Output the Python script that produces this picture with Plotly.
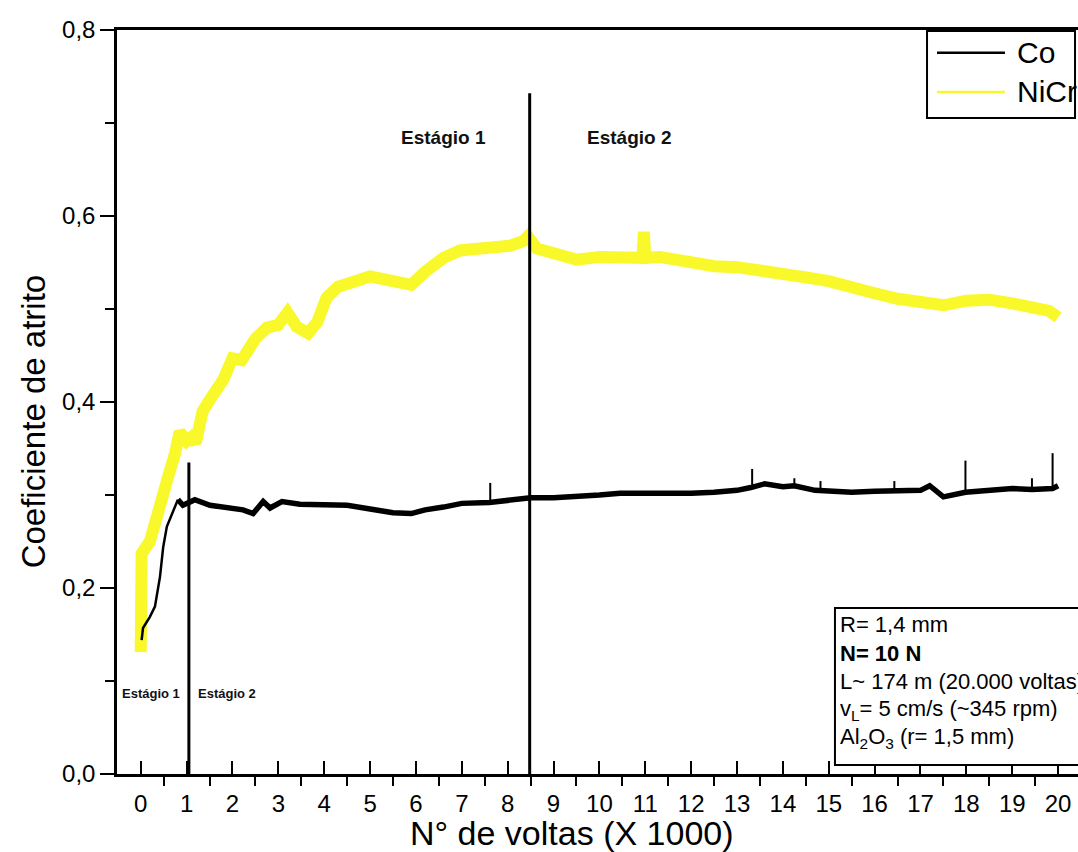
import plotly.graph_objects as go

# Friction coefficient vs. number of laps (x 1000)
nicr_x = [0.00, 0.02, 0.20, 0.40, 0.60, 0.75, 0.85, 1.00, 1.10, 1.20, 1.35, 1.50, 1.80, 2.00,
          2.20, 2.50, 2.75, 3.00, 3.20, 3.40, 3.65, 3.85, 4.05, 4.30, 4.60, 4.80, 5.00, 5.50,
          5.90, 6.20, 6.60, 6.96, 7.30, 7.69, 8.05, 8.34, 8.44, 8.64, 9.14, 9.51, 10.00, 10.60,
          10.94, 10.97, 11.00, 11.32, 12.04, 12.50, 13.00, 13.50, 14.00, 14.50, 15.00, 15.50,
          16.00, 16.50, 17.00, 17.50, 18.00, 18.50, 19.00, 19.50, 19.80, 20.00]
nicr_y = [0.131, 0.237, 0.250, 0.290, 0.320, 0.345, 0.368, 0.358, 0.362, 0.356, 0.390, 0.402,
          0.424, 0.447, 0.445, 0.468, 0.480, 0.483, 0.496, 0.481, 0.474, 0.486, 0.512, 0.524,
          0.528, 0.533, 0.535, 0.530, 0.526, 0.540, 0.555, 0.563, 0.564, 0.565, 0.568, 0.573,
          0.578, 0.565, 0.558, 0.553, 0.556, 0.556, 0.555, 0.583, 0.555, 0.556, 0.548, 0.546,
          0.545, 0.542, 0.540, 0.534, 0.530, 0.522, 0.517, 0.511, 0.507, 0.504, 0.509, 0.510,
          0.506, 0.502, 0.498, 0.491]

# Co: running-in part (thin trace) and steady part
co_run_x = [0.02, 0.05, 0.20, 0.31, 0.42, 0.49, 0.57, 0.68, 0.81]
co_run_y = [0.144, 0.157, 0.169, 0.180, 0.212, 0.244, 0.266, 0.280, 0.295]
co_x = [0.81, 0.92, 1.05, 1.18, 1.51, 1.88, 2.23, 2.45, 2.67, 2.82, 3.08, 3.47, 4.00, 4.50,
        5.00, 5.50, 5.90, 6.20, 6.60, 7.00, 7.60, 8.00, 8.50, 9.00, 9.50, 10.00, 10.45,
        11.00, 11.50, 12.00, 12.50, 13.00, 13.30, 13.60, 14.00, 14.25, 14.70, 15.20, 15.50,
        16.00, 16.40, 17.00, 17.20, 17.50, 17.98, 18.50, 19.00, 19.43, 19.88, 20.00]
co_y = [0.295, 0.289, 0.292, 0.295, 0.289, 0.287, 0.284, 0.280, 0.293, 0.286, 0.293, 0.290,
        0.290, 0.289, 0.285, 0.281, 0.280, 0.284, 0.287, 0.291, 0.292, 0.294, 0.297, 0.297,
        0.298, 0.300, 0.302, 0.302, 0.301, 0.302, 0.303, 0.305, 0.308, 0.312, 0.309, 0.310,
        0.305, 0.304, 0.303, 0.304, 0.304, 0.305, 0.310, 0.298, 0.303, 0.305, 0.307, 0.306,
        0.307, 0.310]
# Narrow spikes on the Co signal: position, base, peak
co_spike_x = [7.62, 13.33, 14.25, 14.82, 16.43, 17.98, 19.43, 19.88]
co_spike_base = [0.292, 0.308, 0.310, 0.305, 0.304, 0.303, 0.306, 0.307]
co_spike_top = [0.313, 0.328, 0.318, 0.315, 0.315, 0.337, 0.318, 0.345]

x_ticks = list(range(0, 21))
y_ticks = [0.0, 0.2, 0.4, 0.6, 0.8]

# Stage separators: (laps x1000, top of the line)
stage_x = [1.05, 8.48]
stage_top = [0.335, 0.732]

legend_names = ["Co", "NiCr"]
colors = {"Co": "#000000", "NiCr": "#F8F82A"}

info_lines = ["R= 1,4 mm", "<b>N= 10 N</b>", "L~ 174 m (20.000 voltas)",
              "v<sub>L</sub>= 5 cm/s (~345 rpm)", "Al<sub>2</sub>O<sub>3</sub> (r= 1,5 mm)"]

FONT = "Liberation Sans, Arial, sans-serif"

fig = go.Figure()
fig.add_trace(go.Scatter(x=nicr_x, y=nicr_y, mode="lines", name="NiCr",
                         line=dict(color=colors["NiCr"], width=12), showlegend=False))
fig.add_trace(go.Scatter(x=co_run_x, y=co_run_y, mode="lines", name="Co",
                         line=dict(color=colors["Co"], width=2.5), showlegend=False))
fig.add_trace(go.Scatter(x=co_x, y=co_y, mode="lines", name="Co",
                         line=dict(color=colors["Co"], width=5.5), showlegend=False))
spx, spy = [], []
for sx, sb, st in zip(co_spike_x, co_spike_base, co_spike_top):
    spx += [sx, sx, None]
    spy += [sb, st, None]
fig.add_trace(go.Scatter(x=spx, y=spy, mode="lines", name="Co",
                         line=dict(color=colors["Co"], width=2), showlegend=False))

shapes = []
for sx, st in zip(stage_x, stage_top):
    shapes.append(dict(type="line", xref="x", yref="y", x0=sx, x1=sx, y0=0, y1=st,
                       line=dict(color="black", width=3), layer="above"))

# Legend box drawn in paper coordinates
shapes.append(dict(type="rect", xref="paper", yref="paper", x0=0.8429, x1=0.9969,
                   y0=0.8817, y1=0.9987, line=dict(color="black", width=2),
                   fillcolor="white", layer="above"))
legend_y = [0.9694, 0.9167]
for name, ly in zip(legend_names, legend_y):
    shapes.append(dict(type="line", xref="paper", yref="paper", x0=0.8533, x1=0.9240,
                       y0=ly, y1=ly, line=dict(color=colors[name], width=2.5), layer="above"))

# Test conditions box
shapes.append(dict(type="rect", xref="paper", yref="paper", x0=0.7471, x1=1.05,
                   y0=0.0121, y1=0.2231, line=dict(color="black", width=2),
                   fillcolor="white", layer="above"))

annotations = []
for name, ly in zip(legend_names, legend_y):
    annotations.append(dict(xref="paper", yref="paper", x=0.9344, y=ly, text=name,
                            showarrow=False, xanchor="left", yanchor="middle",
                            font=dict(family=FONT, size=30, color="black")))

info_y = [0.2003, 0.1626, 0.1237, 0.0860, 0.0484]
for txt, iy in zip(info_lines, info_y):
    annotations.append(dict(xref="paper", yref="paper", x=0.7503, y=iy, text=txt,
                            showarrow=False, xanchor="left", yanchor="middle",
                            font=dict(family=FONT, size=22, color="black")))

stage_labels = [("Estágio 1", 6.61, 0.684, 19), ("Estágio 2", 10.65, 0.684, 19),
                ("Estágio 1", 0.225, 0.087, 13), ("Estágio 2", 1.89, 0.087, 13)]
for txt, lx, ly, fs in stage_labels:
    annotations.append(dict(xref="x", yref="y", x=lx, y=ly, text=f"<b>{txt}</b>",
                            showarrow=False, xanchor="center", yanchor="middle",
                            font=dict(family=FONT, size=fs, color="#111111")))

# Axis titles
annotations.append(dict(xref="paper", yref="paper", x=0.4735, y=-0.0793,
                        text="N° de voltas (X 1000)", showarrow=False,
                        xanchor="center", yanchor="middle",
                        font=dict(family=FONT, size=34, color="black")))
annotations.append(dict(xref="paper", yref="paper", x=-0.0874, y=0.474,
                        text="Coeficiente de atrito", showarrow=False, textangle=-90,
                        xanchor="center", yanchor="middle",
                        font=dict(family=FONT, size=33, color="black")))

fig.update_layout(
    width=1078, height=852,
    margin=dict(l=117, r=0, t=30, b=78, pad=0),
    paper_bgcolor="white", plot_bgcolor="white",
    separators=",.",
    showlegend=False,
    shapes=shapes, annotations=annotations,
    font=dict(family=FONT, color="black"),
)
fig.update_xaxes(
    range=[-0.517, 20.434], tickmode="array", tickvals=x_ticks,
    ticktext=[str(t) for t in x_ticks],
    showline=True, linecolor="black", linewidth=2.5, mirror=True,
    ticks="inside", ticklen=13, tickwidth=2, tickcolor="black",
    minor=dict(ticks="outside", ticklen=9, tickwidth=2, tickcolor="black",
               dtick=1, tick0=0.5),
    showgrid=False, zeroline=False, automargin=False,
    tickfont=dict(family=FONT, size=24, color="black"), ticklabelstandoff=6,
)
fig.update_yaxes(
    range=[0, 0.8], tickmode="array", tickvals=y_ticks,
    ticktext=[f"{v:.1f}".replace(".", ",") for v in y_ticks],
    showline=True, linecolor="black", linewidth=2.5, mirror=False,
    ticks="outside", ticklen=14, tickwidth=2, tickcolor="black",
    minor=dict(ticks="outside", ticklen=9, tickwidth=2, tickcolor="black",
               dtick=0.2, tick0=0.1),
    showgrid=False, zeroline=False, automargin=False,
    tickfont=dict(family=FONT, size=24, color="black"), ticklabelstandoff=0,
)

fig.write_html("out.html")
